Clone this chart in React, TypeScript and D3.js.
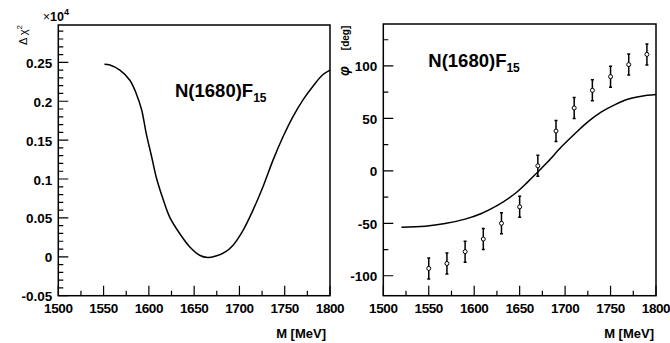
import React from "react";
import * as d3 from "d3";

const leftCurveM = [1551, 1557, 1568, 1579, 1586, 1592, 1597, 1603, 1608, 1616, 1623, 1634, 1645, 1656, 1665, 1674, 1684, 1693, 1704, 1715, 1726, 1737, 1748, 1759, 1770, 1781, 1792, 1800];
const leftCurveV = [0.2474, 0.2466, 0.24, 0.227, 0.21, 0.189, 0.159, 0.129, 0.103, 0.073, 0.051, 0.03, 0.013, 0.002, -0.001, 0.001, 0.006, 0.015, 0.034, 0.06, 0.09, 0.124, 0.154, 0.18, 0.2015, 0.219, 0.234, 0.24];

const rightCurveM = [1520, 1546, 1568, 1590, 1608, 1626, 1645, 1659, 1670, 1681, 1696, 1711, 1725, 1740, 1755, 1769, 1784, 1800];
const rightCurveV = [-53.7, -52.7, -50.2, -46, -40.6, -32.7, -21.6, -10.5, -1, 8.6, 22.9, 35.6, 46.7, 56.2, 63.2, 68.3, 71.1, 72.7];

const dataM = [1550, 1570, 1590, 1610, 1630, 1650, 1670, 1690, 1710, 1730, 1750, 1770, 1790];
const dataPhi = [-93, -88.3, -77, -65, -50, -34.3, 4.8, 38, 60, 76.8, 89.8, 101.3, 111];
const dataErr = [10, 10, 10, 10, 10, 10, 10, 10, 10, 10, 10, 10, 10];

const xMajor = [1500, 1550, 1600, 1650, 1700, 1750, 1800];
const leftYMajor = [-0.05, 0, 0.05, 0.1, 0.15, 0.2, 0.25];
const leftYLabels = ["-0.05", "0", "0.05", "0.1", "0.15", "0.2", "0.25"];
const rightYMajor = [-100, -50, 0, 50, 100];

const FONT = "'Liberation Sans', Arial, Helvetica, sans-serif";

function tickPath(sx: any, sy: any, xMin: number[], xMaj: number[], yMin: number[], yMaj: number[], bx0: number, by1: number) {
  const parts: string[] = [];
  for (const t of xMin) {
    const major = xMaj.some((m) => Math.abs(m - t) < 1e-9);
    const px = sx(t);
    parts.push("M" + px + " " + by1 + " L" + px + " " + (by1 - (major ? 10 : 5)));
  }
  for (const t of yMin) {
    const major = yMaj.some((m) => Math.abs(m - t) < 1e-9);
    const py = sy(t);
    parts.push("M" + bx0 + " " + py + " L" + (bx0 + (major ? 10 : 5)) + " " + py);
  }
  return parts.join(" ");
}

export default function App() {
  const L = { bx0: 58.3, bx1: 330, by0: 25, by1: 295.7 };
  const R = { bx0: 383.3, bx1: 656, by0: 24, by1: 295.7 };
  const xl = d3.scaleLinear().domain([1500, 1800]).range([L.bx0, L.bx1]);
  const yl = d3.scaleLinear().domain([-0.05, 0.298]).range([L.by1, L.by0]);
  const xr = d3.scaleLinear().domain([1500, 1800]).range([R.bx0, R.bx1]);
  const yr = d3.scaleLinear().domain([-119, 140]).range([R.by1, R.by0]);

  const xMin = d3.range(1500, 1801, 25);
  const lYMin = d3.range(-5, 30, 1).map((v) => v / 100);
  const rYMin = d3.range(-100, 140, 25);

  const lineL = d3.line<number>().x((_, i) => xl(leftCurveM[i])).y((v) => yl(v)).curve(d3.curveCatmullRom.alpha(0.5));
  const lineR = d3.line<number>().x((_, i) => xr(rightCurveM[i])).y((v) => yr(v)).curve(d3.curveCatmullRom.alpha(0.5));

  const tL = tickPath(xl, yl, xMin, xMajor, lYMin, leftYMajor, L.bx0, L.by1);
  const tR = tickPath(xr, yr, xMin, xMajor, rYMin, rightYMajor, R.bx0, R.by1);

  const lab = { fontFamily: FONT, fontWeight: 700, fontSize: 13.5 } as any;

  return (
    <svg width={670} height={343} style={{ position: "absolute", left: 0, top: 0, background: "#fff" }}>
      <rect width={670} height={343} fill="#fff" />
      <path d={tL} fill="none" stroke="#000" strokeWidth={1.2} />
      <path d={tR} fill="none" stroke="#000" strokeWidth={1.2} />
      <rect x={L.bx0} y={L.by0} width={L.bx1 - L.bx0} height={L.by1 - L.by0} fill="none" stroke="#000" strokeWidth={1.5} />
      <rect x={R.bx0} y={R.by0} width={R.bx1 - R.bx0} height={R.by1 - R.by0} fill="none" stroke="#000" strokeWidth={1.5} />
      {xMajor.map((t, i) => (
        <text key={"xlL" + i} x={xl(t)} y={L.by1 + 17.5} textAnchor="middle" letterSpacing={-0.4} {...lab}>{String(t)}</text>
      ))}
      {leftYMajor.map((t, i) => (
        <text key={"ylL" + i} x={L.bx0 - 6} y={yl(t) + 5.5} textAnchor="end" {...lab}>{leftYLabels[i]}</text>
      ))}
      {xMajor.map((t, i) => (
        <text key={"xlR" + i} x={xr(t)} y={R.by1 + 17.5} textAnchor="middle" letterSpacing={-0.4} {...lab}>{String(t)}</text>
      ))}
      {rightYMajor.map((t, i) => (
        <text key={"ylR" + i} x={R.bx0 - 6} y={yr(t) + 5.5} textAnchor="end" {...lab}>{String(t)}</text>
      ))}

      <path d={lineL(leftCurveV) || ""} fill="none" stroke="#000" strokeWidth={1.5} />
      <text x={175} y={96.5} fontFamily={FONT} fontWeight={700} fontSize={18.5}>N(1680)F<tspan dy={5} fontSize={12}>15</tspan></text>
      <text x={43} y={20.5} fontFamily={FONT} fontSize={12}>×<tspan fontWeight={700} fontSize={12.5}>10</tspan><tspan dy={-6} fontSize={9} fontWeight={700}>4</tspan></text>
      <text transform="translate(27,45) rotate(-90)" fontFamily={FONT} fontSize={11}>Δ χ<tspan dy={-5} fontSize={8}>2</tspan></text>
      <text x={326} y={338} textAnchor="end" fontFamily={FONT} fontWeight={700} fontSize={13}>M [MeV]</text>

      <path d={lineR(rightCurveV) || ""} fill="none" stroke="#000" strokeWidth={1.5} />
      {dataM.map((m, i) => (
        <g key={"p" + i}>
          <path d={`M${xr(m)},${yr(dataPhi[i] - dataErr[i])}V${yr(dataPhi[i] + dataErr[i])}M${xr(m) - 1.5},${yr(dataPhi[i] - dataErr[i])}H${xr(m) + 1.5}M${xr(m) - 1.5},${yr(dataPhi[i] + dataErr[i])}H${xr(m) + 1.5}`} fill="none" stroke="#000" strokeWidth={1.5} />
          <circle cx={xr(m)} cy={yr(dataPhi[i])} r={2} fill="#fff" stroke="#000" strokeWidth={1} />
        </g>
      ))}
      <text x={428.3} y={66.7} fontFamily={FONT} fontWeight={700} fontSize={18.5}>N(1680)F<tspan dy={5} fontSize={12}>15</tspan></text>
      <text transform="translate(349,76) rotate(-90)" fontFamily={FONT} fontSize={12}><tspan fontWeight={700} fontStyle="italic" fontSize={14}>φ</tspan><tspan dx={16} fontWeight={700} fontSize={10}>[deg]</tspan></text>
      <text x={654} y={338} textAnchor="end" fontFamily={FONT} fontWeight={700} fontSize={13}>M [MeV]</text>
    </svg>
  );
}
